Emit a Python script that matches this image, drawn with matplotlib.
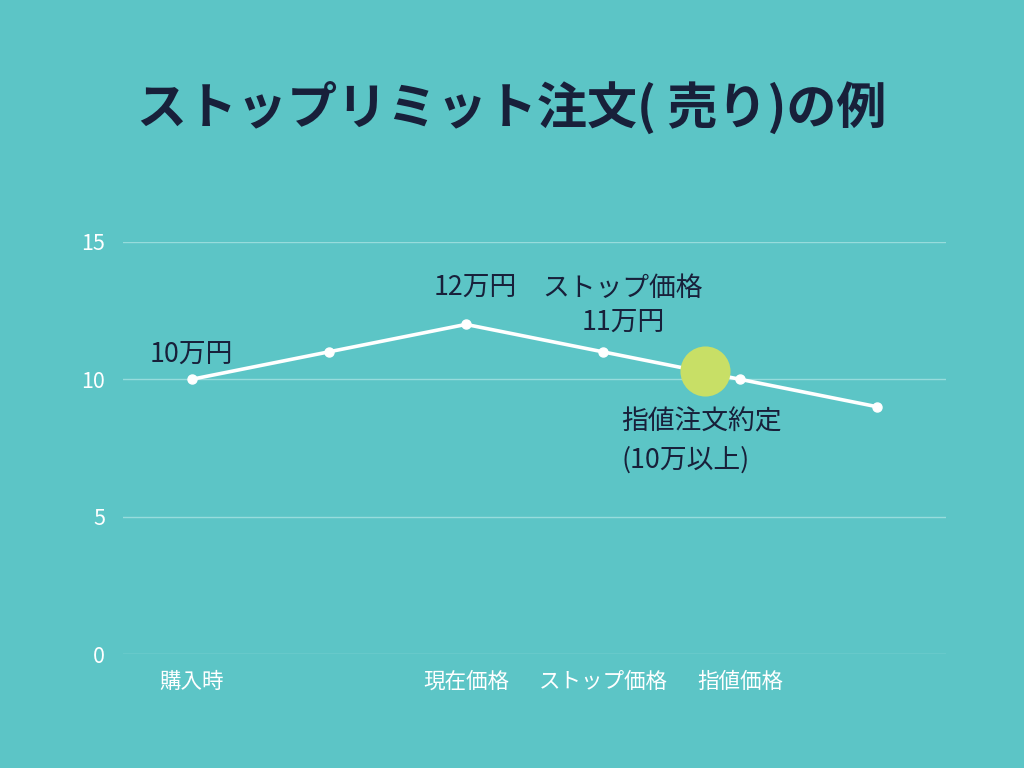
import matplotlib
matplotlib.use('Agg')
import matplotlib.pyplot as plt

plt.rcParams['font.family'] = ['Noto Sans CJK JP', 'DejaVu Sans']

# data
steps = [0, 1, 2, 3, 4, 5]
prices = [10, 11, 12, 11, 10, 9]
tick_pos = [0, 2, 3, 4]
tick_labels = ['購入時', '現在価格', 'ストップ価格', '指値価格']
fill_x = 3.74
fill_y = 10.3

bg = '#5CC5C6'
navy = '#18203A'

fig = plt.figure(figsize=(10.24, 7.68), dpi=100, facecolor=bg)
ax = fig.add_axes([0.1201, 0.1484, 0.8037, 0.5365], facecolor=bg)

ax.plot(steps, prices, color='white', lw=2.6, marker='o', ms=6.5, zorder=3)
ax.scatter([fill_x], [fill_y], s=1300, color='#C8DF66', zorder=4, linewidths=0)

ax.set_xlim(-0.5, 5.5)
ax.set_ylim(0, 15)
ax.set_yticks([0, 5, 10, 15])
ax.set_xticks(tick_pos)
ax.set_xticklabels(tick_labels)
ax.grid(axis='y', color='#97DCDC', lw=1)
ax.set_axisbelow(True)
for s in ax.spines.values():
    s.set_visible(False)
ax.tick_params(length=0, colors='white', labelsize=15.5)
ax.tick_params(axis='y', pad=13)
ax.tick_params(axis='x', pad=12)

kw = dict(textcoords='offset pixels', fontsize=19.3, color=navy, va='center')
ax.annotate('10万円', (steps[0], prices[0]), xytext=(0, 24), ha='center', **kw)
ax.annotate('12万円', (steps[2], prices[2]), xytext=(9, 36), ha='center', **kw)
ax.annotate('ストップ価格\n11万円', (steps[3], prices[3]), xytext=(20, 46),
            ha='center', linespacing=1.37, **kw)
ax.annotate('指値注文約定\n(10万以上)', (fill_x, fill_y), xytext=(-83, -70),
            ha='left', linespacing=1.55, **kw)

fig.text(0.5, 1 - 108 / 768, 'ストップリミット注文( 売り)の例', ha='center', va='center',
         fontsize=36, fontweight='bold', color=navy)

fig.savefig('out.png', dpi=100, facecolor=bg)
